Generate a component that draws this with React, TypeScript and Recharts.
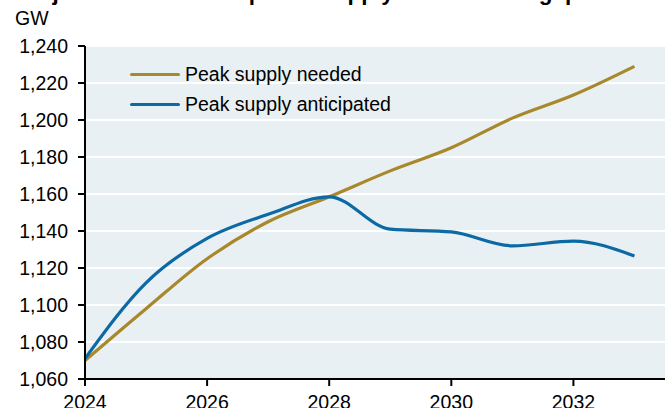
import React from "react";
import { LineChart, Line, XAxis, YAxis, CartesianGrid, Legend } from "recharts";

const years = [2024, 2025, 2026, 2027, 2028, 2029, 2030, 2031, 2032, 2033];
const supplyNeeded = [1070, 1098, 1125, 1145, 1158.5, 1172.5, 1185, 1201, 1213.5, 1229];
const supplyAnticipated = [1071, 1112, 1136, 1149, 1158.5, 1141, 1139.5, 1132, 1134.5, 1126.5];
const yTicks = [1060, 1080, 1100, 1120, 1140, 1160, 1180, 1200, 1220, 1240];
const xTicks = [2024, 2026, 2028, 2030, 2032];

const series = [
  { key: "needed", name: "Peak supply needed", color: "#a9872b" },
  { key: "anticipated", name: "Peak supply anticipated", color: "#0c69a4" },
];

const data = years.map((year, i) => ({
  year,
  needed: supplyNeeded[i],
  anticipated: supplyAnticipated[i],
}));

const font = '"Liberation Sans", Arial, sans-serif';

const fmt = (v: number) => v.toLocaleString("en-US");

function LegendBox() {
  return (
    <div style={{ fontFamily: font, fontSize: 19.5, color: "#000" }}>
      {series.map((s) => (
        <div key={s.key} style={{ display: "flex", alignItems: "center", height: 30 }}>
          <span style={{ width: 50, height: 3, background: s.color, display: "inline-block", marginRight: 5, borderRadius: 2 }} />
          {s.name}
        </div>
      ))}
    </div>
  );
}

export default function App() {
  return (
    <div style={{ position: "absolute", left: 0, top: 0, width: 665, height: 408, overflow: "hidden", background: "#fff" }}>
      <LineChart width={665} height={408} data={data} margin={{ top: 46, right: 0, bottom: 0, left: 0 }}>
        <CartesianGrid vertical={false} stroke="#ffffff" strokeWidth={2} fill="#e8f0f4" />
        <XAxis
          dataKey="year"
          type="number"
          domain={[2024, 2033.5]}
          ticks={xTicks}
          allowDataOverflow
          height={29}
          tickSize={7}
          tickMargin={9}
          axisLine={{ stroke: "#000", strokeWidth: 2 }}
          tickLine={{ stroke: "#000", strokeWidth: 2 }}
          tick={{ fill: "#000", fontSize: 19.5, fontFamily: font }}
        />
        <YAxis
          domain={[1060, 1240]}
          ticks={yTicks}
          width={85}
          tickSize={7}
          tickMargin={10}
          tickFormatter={fmt}
          axisLine={{ stroke: "#000", strokeWidth: 2 }}
          tickLine={{ stroke: "#000", strokeWidth: 2 }}
          tick={{ fill: "#000", fontSize: 19.5, fontFamily: font }}
        />
        <Legend
          layout="vertical"
          verticalAlign="middle"
          align="center"
          content={() => <LegendBox />}
          wrapperStyle={{ top: 59, left: 130, width: "auto", height: "auto" }}
        />
        {series.map((s) => (
          <Line
            key={s.key}
            dataKey={s.key}
            name={s.name}
            type="monotone"
            stroke={s.color}
            strokeWidth={3.2}
            dot={false}
            isAnimationActive={false}
          />
        ))}
      </LineChart>
      <svg width={665} height={40} style={{ position: "absolute", left: 0, top: 0, pointerEvents: "none" }}>
        <text x={15} y={-0.5} fontFamily={font} fontWeight="bold" fontSize={22.5} fill="#000">
          Projections of the US power supply and demand gap
        </text>
        <text x={15} y={25} fontFamily={font} fontSize={19.5} fill="#000">
          GW
        </text>
      </svg>
    </div>
  );
}
